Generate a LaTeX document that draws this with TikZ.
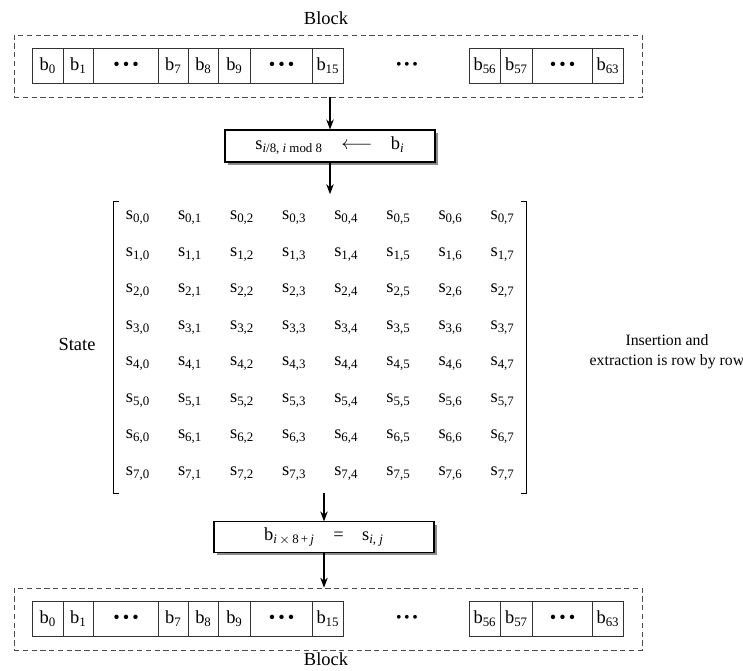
\documentclass[tikz,border=0pt]{standalone}
\usepackage{fontspec}
\setmainfont{Liberation Serif}
\usetikzlibrary{arrows.meta, positioning, fit, shadows}

\newcommand{\dotsym}{\textbullet\,\textbullet\,\textbullet}

% one row of byte cells, #1 = name prefix, #2 = y
\newcommand{\blockrow}[2]{%
  \foreach \x/\w/\n/\t in {32/31/b0/{b\textsubscript{0}}, 63/30/b1/{b\textsubscript{1}},
      93/65/d1/{\dotsym}, 158/30/b7/{b\textsubscript{7}}, 188/30/b8/{b\textsubscript{8}},
      218/32/b9/{b\textsubscript{9}}, 250/62/d2/{\dotsym}, 312/31/b15/{b\textsubscript{15}},
      469/31/b56/{b\textsubscript{56}}, 500/32/b57/{b\textsubscript{57}},
      532/60/d3/{\dotsym}, 592/31/b63/{b\textsubscript{63}}}
    \node[cell, minimum width=\w*0.02cm, anchor=west] (#1\n) at (\x,#2) {\t};
  \node[font=\small] (#1mid) at (407,#2) {\dotsym};
}

\begin{document}
\begin{tikzpicture}[x=0.02cm, y=-0.02cm, >=Stealth,
    cell/.style={rectangle, draw=black!80, semithick, minimum height=0.7cm, inner sep=0pt, font=\fontsize{10.5}{12}\selectfont},
    blockframe/.style={rectangle, draw=black!70, densely dashed, inner xsep=0.36cm, inner ysep=0.26cm},
    opbox/.style={rectangle, draw=black, semithick, fill=white, drop shadow={shadow xshift=1.6pt, shadow yshift=-1.6pt, opacity=0.9}, font=\fontsize{10.5}{12}\selectfont},
    selem/.style={font=\fontsize{10.5}{12}\selectfont, inner sep=1pt},
    arr/.style={->, semithick}
]
    \useasboundingbox (0,0) rectangle (743,671);

    % input block
    \blockrow{in}{66}
    \node[blockframe, fit=(inb0)(inb63)] (blockin) {};
    \node[font=\fontsize{10.5}{12}\selectfont] (topblock) at (326,18) {Block};

    % insertion
    \node[opbox, minimum width=4.2cm, minimum height=0.64cm] (insert) at (330,146)
        {s\textsubscript{\textit{i}/8, \textit{i} mod 8}\quad$\longleftarrow$\quad b\textsubscript{\textit{i}}};

    % state matrix
    \node[minimum width=8.24cm, minimum height=5.82cm, inner sep=0pt] (state) at (320,347.5) {};
    \foreach \r in {0,...,7}
      \foreach \c in {0,...,7}
        \node[selem] (s\r\c) at ({138+52.1*\c},{218+36.5*\r}) {s\textsubscript{\r,\c}};
    \draw[semithick] ([xshift=0.1cm]state.north west) -- (state.north west) -- (state.south west) -- ++(0.1cm,0);
    \draw[semithick] ([xshift=-0.1cm]state.north east) -- (state.north east) -- (state.south east) -- ++(-0.1cm,0);

    \node[font=\fontsize{10.5}{12}\selectfont] (statelbl) at (77,344) {State};
    \node[align=center, font=\fontsize{9}{11.5}\selectfont] (note) at (667,352) {Insertion and\\extraction is row by row};

    % extraction
    \node[opbox, minimum width=4.4cm, minimum height=0.6cm] (extract) at (324,537)
        {b\textsubscript{\textit{i}\,$\times$\,8\,+\,\textit{j}}\quad=\quad s\textsubscript{\textit{i}, \textit{j}}};

    % output block
    \blockrow{out}{619}
    \node[blockframe, fit=(outb0)(outb63)] (blockout) {};
    \node[font=\fontsize{10.5}{12}\selectfont] (botblock) at (326,659) {Block};

    % arrows
    \draw[arr] (blockin.south -| insert.north) -- (insert.north);
    \draw[arr, shorten >=0.15cm] (insert.south) -- (insert.south |- state.north);
    \draw[arr] (state.south -| extract.north) -- (extract.north);
    \draw[arr] (extract.south) -- (extract.south |- blockout.north);
\end{tikzpicture}
\end{document}
